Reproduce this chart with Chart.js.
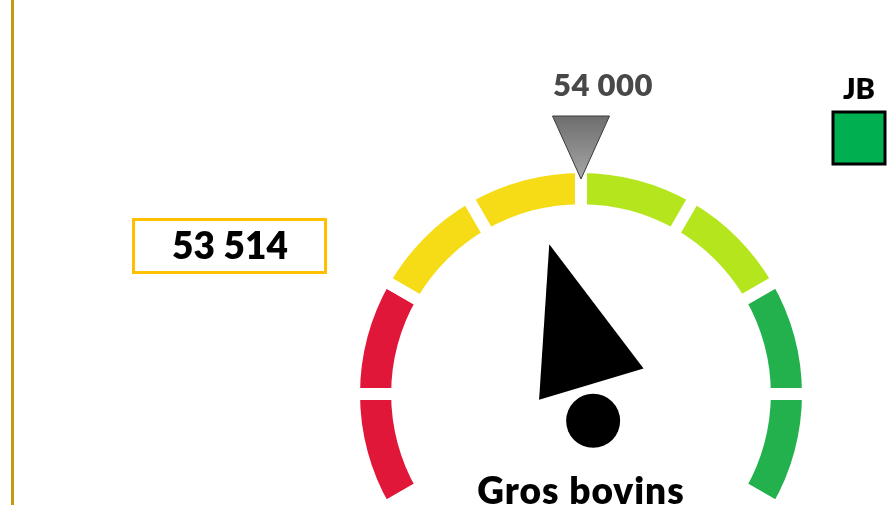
<!DOCTYPE html>
<html>
<head>
<meta charset="utf-8">
<script src="https://cdn.jsdelivr.net/npm/chart.js@4.4.1/dist/chart.umd.min.js"></script>
<style>
  html, body { margin: 0; padding: 0; background: #fff; }
</style>
</head>
<body>
<canvas id="gauge" width="890" height="505"></canvas>
<script>
// gauge scale: 8 bands of 1 000 between 50 000 and 58 000
const scaleBounds = [50000, 51000, 52000, 53000, 54000, 55000, 56000, 57000, 58000];
const currentValue = 53514;
const targetValue = 54000;
const gaugeTitle = 'Gros bovins';
const legendLabel = 'JB';

const segmentColors = ['#E1173A', '#E1173A', '#F5DC17', '#F5DC17', '#B5E61D', '#B5E61D', '#22B14C', '#22B14C'];

function fmt(n) {
  return String(n).replace(/\B(?=(\d{3})+(?!\d))/g, ' ');
}

const segmentSizes = scaleBounds.slice(1).map((b, i) => b - scaleBounds[i]);
const segmentLabels = scaleBounds.slice(1).map((b, i) => fmt(scaleBounds[i]) + ' – ' + fmt(b));

const GAUGE_SPAN = 240;

// angle in radians, measured clockwise from the top of the gauge
function valueToAngle(v) {
  const min = scaleBounds[0];
  const max = scaleBounds[scaleBounds.length - 1];
  return ((v - min) / (max - min) - 0.5) * GAUGE_SPAN * Math.PI / 180;
}

// point at distance du along the direction of angle a, dv to its right
function along(cx, cy, a, du, dv) {
  const ux = Math.sin(a), uy = -Math.cos(a);
  const vx = Math.cos(a), vy = Math.sin(a);
  return [cx + ux * du + vx * dv, cy + uy * du + vy * dv];
}

const FONT = 'Lato, "Open Sans", sans-serif';

const gaugeExtras = {
  id: 'gaugeExtras',
  beforeDraw(chart) {
    const ctx = chart.ctx;
    ctx.save();
    ctx.fillStyle = '#C8960F';
    ctx.fillRect(11, 0, 3, chart.height);
    ctx.restore();
  },
  afterDatasetsDraw(chart) {
    const ctx = chart.ctx;
    const arc = chart.getDatasetMeta(0).data[0];
    const cx = arc.x, cy = arc.y;
    const s = (arc.outerRadius - 6) / 221;

    ctx.save();

    // needle
    const a = valueToAngle(currentValue);
    const p1 = along(cx, cy, a, 153 * s, 7 * s);
    const p2 = along(cx, cy, a, 5 * s, -42 * s);
    const p3 = along(cx, cy, a, 9 * s, 67 * s);
    ctx.fillStyle = '#000';
    ctx.beginPath();
    ctx.moveTo(p1[0], p1[1]);
    ctx.lineTo(p2[0], p2[1]);
    ctx.lineTo(p3[0], p3[1]);
    ctx.closePath();
    ctx.fill();
    const hub = along(cx, cy, a, -29 * s, 5 * s);
    ctx.beginPath();
    ctx.arc(hub[0], hub[1], 27 * s, 0, Math.PI * 2);
    ctx.fill();

    // target marker
    const t = valueToAngle(targetValue);
    const tip = along(cx, cy, t, 215 * s, 0);
    const bl = along(cx, cy, t, 278 * s, -28.5 * s);
    const br = along(cx, cy, t, 278 * s, 28.5 * s);
    const grad = ctx.createLinearGradient(0, bl[1], 0, tip[1]);
    grad.addColorStop(0, '#6E6E6E');
    grad.addColorStop(1, '#A6A6A6');
    ctx.fillStyle = grad;
    ctx.strokeStyle = '#3A3A3A';
    ctx.lineWidth = 1;
    ctx.beginPath();
    ctx.moveTo(tip[0], tip[1]);
    ctx.lineTo(bl[0], bl[1]);
    ctx.lineTo(br[0], br[1]);
    ctx.closePath();
    ctx.fill();
    ctx.stroke();

    const lbl = along(cx, cy, t, 308 * s, 22 * s);
    ctx.fillStyle = '#484848';
    ctx.font = '800 31px ' + FONT;
    ctx.letterSpacing = '0.5px';
    ctx.textAlign = 'center';
    ctx.textBaseline = 'middle';
    ctx.fillText(fmt(targetValue), lbl[0], lbl[1]);

    // current value box
    ctx.strokeStyle = '#FFC000';
    ctx.lineWidth = 3;
    ctx.strokeRect(133.5, 219.5, 192, 53);
    ctx.fillStyle = '#000';
    ctx.font = '800 37px ' + FONT;
    ctx.letterSpacing = '0px';
    ctx.fillText(fmt(currentValue), 230, 247);

    // legend
    ctx.font = '800 29px ' + FONT;
    ctx.fillText(legendLabel, 859, 90);
    ctx.fillStyle = '#00B050';
    ctx.fillRect(833, 112, 52, 52);
    ctx.strokeStyle = '#000';
    ctx.lineWidth = 3;
    ctx.strokeRect(833, 112, 52, 52);

    // title
    ctx.fillStyle = '#000';
    ctx.font = '800 37px ' + FONT;
    ctx.letterSpacing = '1px';
    ctx.textBaseline = 'alphabetic';
    ctx.fillText(gaugeTitle, cx, 504);

    ctx.restore();
  }
};

new Chart(document.getElementById('gauge').getContext('2d'), {
  type: 'doughnut',
  data: {
    labels: segmentLabels,
    datasets: [{
      data: segmentSizes,
      backgroundColor: segmentColors,
      borderColor: '#ffffff',
      borderWidth: 12, // white border gives the gaps between bands
      hoverOffset: 0
    }]
  },
  options: {
    responsive: false,
    animation: false,
    rotation: -GAUGE_SPAN / 2,
    circumference: GAUGE_SPAN,
    radius: 227,
    cutout: '81%',
    layout: {
      padding: { left: 300, right: 28, top: 172, bottom: 2.5 }
    },
    plugins: {
      legend: { display: false },
      tooltip: { enabled: false }
    }
  },
  plugins: [gaugeExtras]
});
</script>
</body>
</html>
